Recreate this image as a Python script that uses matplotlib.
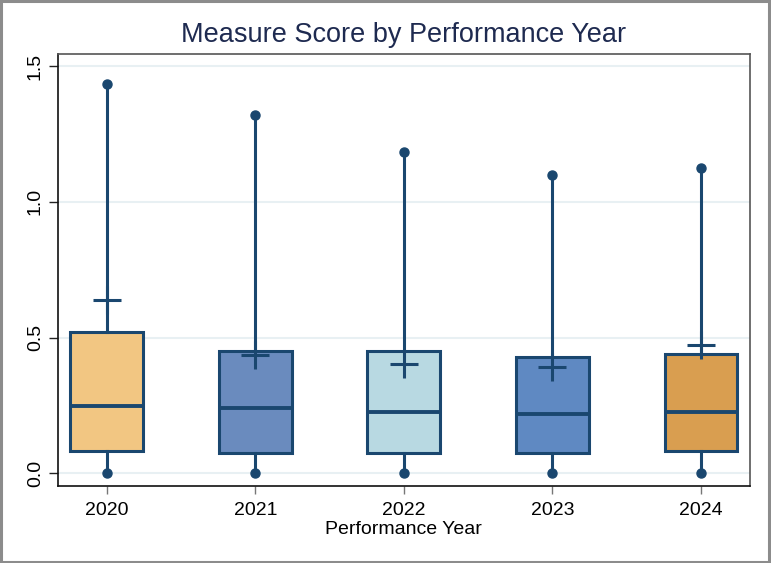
import matplotlib
matplotlib.use("Agg")
import matplotlib.pyplot as plt
from matplotlib.patches import Rectangle

plt.rcParams['font.family'] = ['Liberation Sans', 'DejaVu Sans']

years = ["2020", "2021", "2022", "2023", "2024"]
q1 = [0.082, 0.074, 0.074, 0.074, 0.082]
medians = [0.249, 0.240, 0.227, 0.220, 0.225]
q3 = [0.519, 0.449, 0.449, 0.427, 0.439]
means = [0.638, 0.437, 0.401, 0.392, 0.472]
mins = [0.0, 0.0, 0.0, 0.0, 0.0]
maxs = [1.433, 1.318, 1.182, 1.100, 1.123]
colors = ["#F2C682", "#6A8BBE", "#B8D9E2", "#5F89C2", "#D99E50"]
yticks = [0.0, 0.5, 1.0, 1.5]
ytick_labels = ["0.0", "0.5", "1.0", "1.5"]

navy = "#1A476F"

fig = plt.figure(figsize=(7.71, 5.63), dpi=100)
ax = fig.add_axes([0.0748, 0.1373, 0.9728 - 0.0748, 0.9036 - 0.1373])

stats = []
for i in range(len(years)):
    stats.append(dict(med=medians[i], q1=q1[i], q3=q3[i], whislo=mins[i],
                      whishi=maxs[i], mean=means[i], fliers=[], label=years[i]))

positions = list(range(1, len(years) + 1))
bp = ax.bxp(stats, positions=positions, widths=0.49, patch_artist=True,
            showmeans=True, showcaps=False, showfliers=False,
            boxprops=dict(edgecolor=navy, linewidth=2.2),
            medianprops=dict(color=navy, linewidth=2.8),
            whiskerprops=dict(color=navy, linewidth=2.2),
            meanprops=dict(marker='+', markersize=20, markeredgewidth=2.2,
                           markeredgecolor=navy, markerfacecolor=navy),
            zorder=3)
for patch, c in zip(bp['boxes'], colors):
    patch.set_facecolor(c)
for m in bp['means']:
    m.set_zorder(5)

# end dots
ax.plot(positions, maxs, linestyle='none', marker='o', markersize=6.5,
        color=navy, zorder=4)
ax.plot(positions, mins, linestyle='none', marker='o', markersize=6.5,
        color=navy, zorder=4)

ax.set_xlim(0.67, 5.33)
ax.set_ylim(-0.0458, 1.5435)
ax.set_yticks(yticks)
ax.set_yticklabels(ytick_labels, rotation=90, va='center', fontsize=14)
ax.set_xticks(positions)
ax.set_xticklabels(years, fontsize=14)
ax.tick_params(axis='y', length=6.5, width=1, color='#222222', pad=3.5)
ax.tick_params(axis='x', length=6, width=1, color='#777777', pad=6)
ax.yaxis.grid(True, color='#E8F0F3', linewidth=1.5, zorder=0)
ax.set_axisbelow(True)
for s in ax.spines.values():
    s.set_color('#555555')
    s.set_linewidth(1.2)
ax.spines['left'].set_color('#111111')
ax.spines['bottom'].set_color('#111111')

ax.set_xlabel("Performance Year", fontsize=14, labelpad=1.5)
fig.text(0.523, 0.926, "Measure Score by Performance Year", ha='center',
         va='baseline', fontsize=19.5, color='#1E2A50')

# outer border
fig.patches.append(Rectangle((0.0015, 0.002), 0.996, 0.996, transform=fig.transFigure,
                             fill=False, edgecolor='#8C8C8C', linewidth=2.2))

fig.savefig("out.png", dpi=100)
